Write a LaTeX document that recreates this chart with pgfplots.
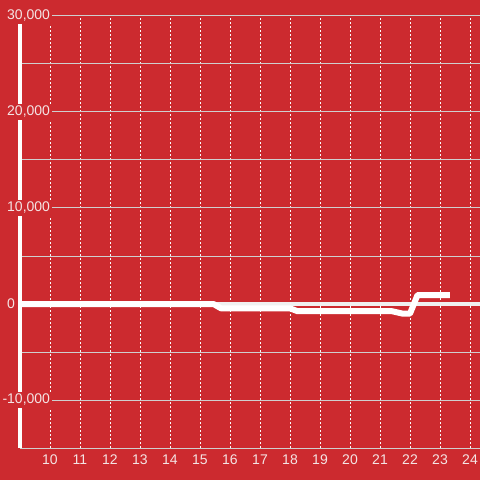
\documentclass[border=0pt]{standalone}
\usepackage{fontspec}
\setmainfont{Liberation Sans}
\usepackage{pgfplots}
\pgfplotsset{compat=1.18}
\definecolor{bgred}{HTML}{CC2A2F}
\definecolor{gridc}{HTML}{CFCFCF}
\definecolor{labc}{HTML}{F4E4E4}
\definecolor{zeroc}{HTML}{F0F0F0}

\begin{document}
\begin{tikzpicture}
\path[use as bounding box, fill=bgred] (-20bp,-32bp) rectangle (460bp,448bp);
\begin{axis}[
  at={(0,0)}, anchor=south west,
  scale only axis, width=460bp, height=432bp,
  xmin=9, xmax=24.3333, ymin=-15000, ymax=30000,
  axis x line*=bottom, axis y line*=left,
  x axis line style={draw=none},
  y axis line style={draw=white, line width=3bp, shorten >=8bp, -},
  xtick={10,...,24},
  ytick={-10000,0,10000,20000,30000},
  yticklabels={{\llap{-}10,000},{0},{10,000},{20,000},{30,000}},
  scaled y ticks=false,
  minor ytick={-15000,-5000,5000,15000,25000},
  major tick length=0pt, minor tick length=0pt,
  xmajorgrids, ymajorgrids, yminorgrids,
  major x grid style={draw=white!90!gridc, line width=1bp, dash pattern=on 2bp off 2bp},
  major y grid style={draw=gridc, line width=1bp},
  minor y grid style={draw=gridc, line width=1bp},
  ticklabel style={font=\fontsize{14bp}{16bp}\selectfont, text=labc},
  xticklabel style={anchor=north, inner sep=0pt, yshift=-7bp},
  yticklabel style={anchor=west, inner xsep=1.5bp, inner ysep=2bp, fill=bgred, xshift=-14.5bp},
  /pgf/number format/assume math mode=true,
  clip=false,
]
% zero line
\draw[line width=4bp, color=zeroc] (axis cs:9,0) -- (axis cs:24.3333,0);

\addplot[white, line width=6bp, line join=round] coordinates {
  (9,0)(15.45,0)(15.7,-450)(18.0,-450)(18.25,-750)
  (21.4,-750)(21.75,-1000)(22.0,-1000)(22.25,930)(23.33,930)};
\end{axis}
\end{tikzpicture}
\end{document}
